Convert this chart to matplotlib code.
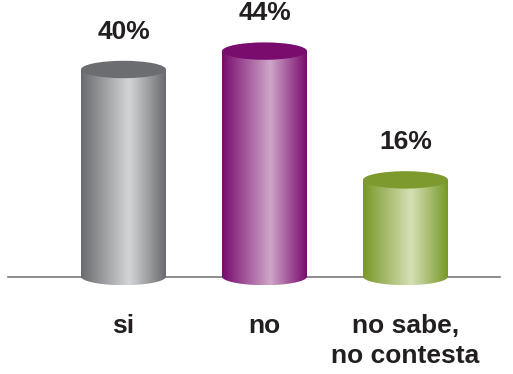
import numpy as np
import matplotlib
matplotlib.use("Agg")
import matplotlib.pyplot as plt
from matplotlib.patches import Ellipse, Path, PathPatch
from matplotlib.colors import LinearSegmentedColormap

categories = ["si", "no", "no sabe,\nno contesta"]
values = [40, 44, 16]
value_labels = ["40%", "44%", "16%"]

# (dark edge, highlight, top cap)
palettes = [
    ("#6a6b6e", "#d3d5d7", "#6c6d70"),
    ("#780b6c", "#cfa6c9", "#7a0c6e"),
    ("#789827", "#d6e0b6", "#7c9a2e"),
]

plt.rcParams["font.family"] = ["Liberation Sans", "DejaVu Sans"]

W, H, DPI = 513, 374, 100
fig = plt.figure(figsize=(W / DPI, H / DPI), dpi=DPI)
ax = fig.add_axes([0, 0, 1, 1])
ax.set_axis_off()

# 3D-style floor sits a bit below zero, like the original chart
floor = -5.0
# pixel mapping: x_px = 123.5 + 141 * x ; y_px(from top) = 276.5 - 4.6 * (y - floor)
px_x, px_y = 141.0, 4.6
base_px = 276.5
ax.set_xlim(-123.5 / px_x, (W - 123.5) / px_x)
ax.set_ylim(floor + (base_px - H) / px_y, floor + base_px / px_y)

half_w = 42.5 / px_x
half_h = 8.7 / px_y

# baseline
ax.plot([(8 - 123.5) / px_x, (500 - 123.5) / px_x], [floor, floor],
        color="#6d6e71", lw=1.1, zorder=1)

for i, (val, (dark, light, cap)) in enumerate(zip(values, palettes)):
    x0, x1 = i - half_w, i + half_w
    # body outline: sides plus lower half-ellipse
    t = np.linspace(np.pi, 2 * np.pi, 60)
    bottom = np.column_stack([i + half_w * np.cos(t), floor + half_h * np.sin(t)])
    verts = np.vstack([[x0, val], bottom, [x1, val], [x0, val]])
    clip = PathPatch(Path(verts), transform=ax.transData, facecolor="none",
                     edgecolor="none")
    ax.add_patch(clip)

    cmap = LinearSegmentedColormap.from_list(
        f"cyl{i}", [(0, dark), (0.57, light), (1, dark)])
    grad = np.linspace(0, 1, 256).reshape(1, -1)
    im = ax.imshow(grad, cmap=cmap, aspect="auto",
                   extent=[x0, x1, floor - half_h, val], zorder=2,
                   interpolation="bilinear")
    im.set_clip_path(clip)

    ax.add_patch(Ellipse((i, val), 2 * half_w, 2 * half_h,
                         facecolor=cap, edgecolor="none", zorder=3))

    ax.annotate(value_labels[i], (i, val), xytext=(0, 38),
                textcoords="offset pixels", ha="center", va="center",
                fontsize=19, fontweight="bold", color="#231f20")

label_y = floor + (base_px - 314) / px_y
for i, cat in enumerate(categories):
    ax.text(i, label_y, cat, ha="center", va="top", fontsize=19,
            fontweight="bold", color="#231f20", linespacing=1.3)

fig.savefig("out.png", dpi=DPI)
